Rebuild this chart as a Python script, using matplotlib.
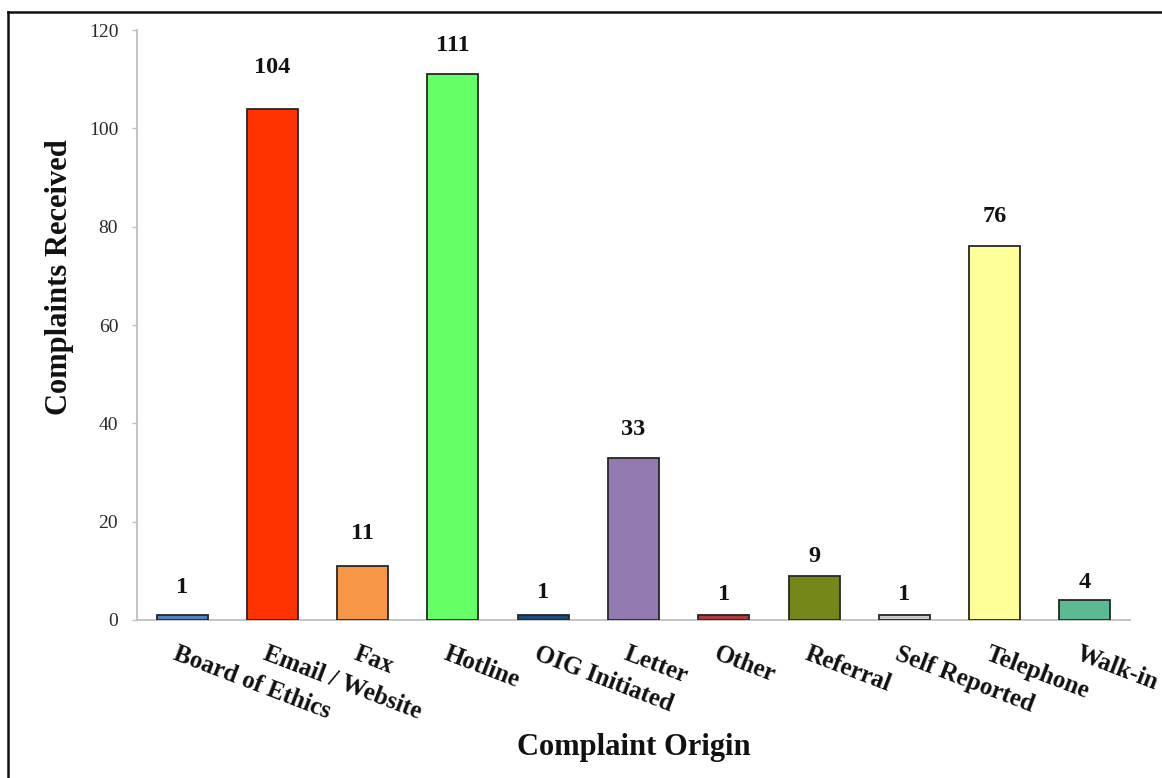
import matplotlib
matplotlib.use("Agg")
import matplotlib.pyplot as plt
from matplotlib.lines import Line2D

categories = ["Board of Ethics", "Email / Website", "Fax", "Hotline", "OIG Initiated",
              "Letter", "Other", "Referral", "Self Reported", "Telephone", "Walk-in"]
complaints = [1, 104, 11, 111, 1, 33, 1, 9, 1, 76, 4]
bar_colors = ["#4f81bd", "#ff3300", "#f79646", "#66ff66", "#1f497d",
              "#9279b0", "#b03a3a", "#76871a", "#c8c8c8", "#ffff99", "#5cba92"]
y_ticks = [0, 20, 40, 60, 80, 100, 120]

# gap (in points) between each bar top and its value label
label_gaps = [12, 22, 16, 13, 9, 13, 7, 6, 7, 14, 5]

plt.rcParams["font.family"] = ["Liberation Serif", "DejaVu Serif"]

fig = plt.figure(figsize=(11.62, 7.78), dpi=100)
ax = fig.add_axes([0.1179, 0.2031, 0.9725 - 0.1179, 0.9614 - 0.2031])

x = list(range(len(categories)))
bars = ax.bar(x, complaints, width=0.565, color=bar_colors,
              edgecolor="#262626", linewidth=1.3, zorder=3)

for xi, v, gap in zip(x, complaints, label_gaps):
    ax.annotate(str(v), (xi, v), xytext=(0, gap), textcoords="offset points",
                ha="center", va="bottom", fontsize=17.5, fontweight="bold", color="#111111")

ax.set_xlim(-0.5, len(categories) - 0.5)
ax.set_ylim(0, 120)
ax.set_yticks(y_ticks)
ax.set_yticklabels([str(t) for t in y_ticks], fontsize=14, color="#2a2a2a")
ax.tick_params(axis="y", direction="out", length=3.5, width=1, color="#bfbfbf", pad=10)
ax.set_xticks(x)
ax.set_xticklabels([])
ax.tick_params(axis="x", length=0)

for side in ("top", "right"):
    ax.spines[side].set_visible(False)
for side in ("left", "bottom"):
    ax.spines[side].set_color("#bfbfbf")
    ax.spines[side].set_linewidth(1.3)

# rotated category labels starting beneath each bar
for xi, name in zip(x, categories):
    ax.annotate(name, (xi, 0), xytext=(-3, -16), textcoords="offset points",
                ha="left", va="top", rotation=-21, rotation_mode="anchor",
                fontsize=18, fontweight="bold", color="#111111")

fig.text(60 / 1162, 1 - 277 / 778, "Complaints Received", rotation=90,
         ha="center", va="center", fontsize=22, fontweight="bold", color="#111111")
fig.text(634 / 1162, 1 - 748 / 778, "Complaint Origin",
         ha="center", va="center", fontsize=22, fontweight="bold", color="#111111")

# frame lines along the top and left edges of the figure
fig.add_artist(Line2D([8 / 1162, 1.0], [1 - 12 / 778, 1 - 12 / 778],
                      transform=fig.transFigure, color="#111111", linewidth=1.8))
fig.add_artist(Line2D([8 / 1162, 8 / 1162], [0, 1 - 12 / 778],
                      transform=fig.transFigure, color="#111111", linewidth=1.8))

fig.savefig("out.png", dpi=100, facecolor="white")
